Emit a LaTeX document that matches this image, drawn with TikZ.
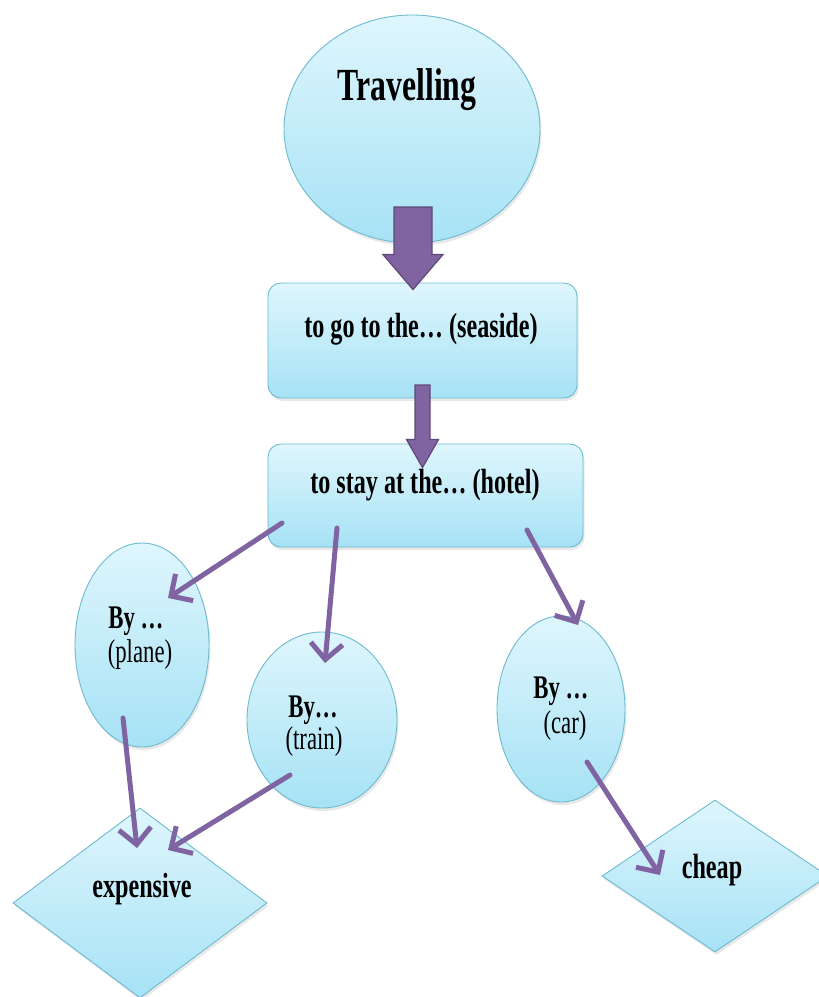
\documentclass[tikz,border=0pt]{standalone}
\usepackage{fontspec}
\setmainfont{Liberation Serif}[FakeStretch=0.69]
\usetikzlibrary{shapes.geometric,arrows.meta,calc,shadows}
\definecolor{fillTop}{HTML}{DFF6FD}
\definecolor{fillBot}{HTML}{A6E2F5}
\definecolor{edgeC}{HTML}{6DBBD0}
\definecolor{arrowC}{HTML}{8064A2}
\definecolor{arrowD}{HTML}{5F497A}
\begin{document}
\begin{tikzpicture}[x=1pt,y=-1pt,
  shapefill/.style={draw=edgeC, line width=0.9pt, top color=fillTop, bottom color=fillBot, inner sep=0pt,
    drop shadow={opacity=0.18, shadow xshift=1.5pt, shadow yshift=-3pt}},
  oval/.style={shapefill, ellipse},
  rbox/.style={shapefill, rectangle, rounded corners=13pt},
  rhomb/.style={shapefill, diamond},
  boldtxt/.style={font=\fontsize{35}{35}\selectfont\bfseries, anchor=base, inner sep=0pt},
  plaintxt/.style={font=\fontsize{33}{33}\selectfont, anchor=base, inner sep=0pt},
  link/.style={draw=arrowC, line width=5pt, line cap=round, -{Straight Barb[length=16pt,width=32pt]}},
  blockarrow/.style={fill=arrowC, draw=arrowD, line width=1.2pt, line join=miter}
]
\useasboundingbox[fill=white] (0,0) rectangle (819,997);

% shapes
\node[oval, minimum width=256pt, minimum height=228pt] (trav) at (412,129) {};
\node[rbox, minimum width=309pt, minimum height=115pt] (box1) at (422.5,340.5) {};
\node[rbox, minimum width=315pt, minimum height=103pt] (box2) at (425.5,495.5) {};
\node[oval, minimum width=134pt, minimum height=204pt] (plane) at (142,645) {};
\node[oval, minimum width=150pt, minimum height=176pt] (train) at (322,720) {};
\node[oval, minimum width=128pt, minimum height=186pt] (car) at (561,709) {};
\node[rhomb, minimum width=254pt, minimum height=190pt] (exp) at (140,903) {};
\node[rhomb, minimum width=226pt, minimum height=152pt] (cheap) at (715,876) {};

% texts
\node[boldtxt, font=\fontsize{46}{46}\selectfont\bfseries] (travtxt) at (407,100) {Travelling};
\node[boldtxt] (box1txt) at (421,337) {to go to the… (seaside)};
\node[boldtxt] (box2txt) at (425,493) {to stay at the… (hotel)};
\node[boldtxt, font=\fontsize{33}{33}\selectfont\bfseries] (planeA) at (136,628) {By …};
\node[plaintxt] (planeB) at (140,662) {(plane)};
\node[boldtxt, font=\fontsize{33}{33}\selectfont\bfseries] (trainA) at (313,717) {By…};
\node[plaintxt] (trainB) at (314,749) {(train)};
\node[boldtxt, font=\fontsize{33}{33}\selectfont\bfseries] (carA) at (561,698) {By …};
\node[plaintxt] (carB) at (565,733) {(car)};
\node[boldtxt] (exptxt) at (142,897) {expensive};
\node[boldtxt] (cheaptxt) at (712,878) {cheap};

% block arrows
\coordinate (ba1s) at ($(trav.center)+(1,78)$);
\coordinate (ba1e) at ($(box1.north)+(-9.5,7)$);
\draw[blockarrow] ($(ba1s)+(-19,0)$) -- ($(ba1e)+(-19,-35)$) -- ($(ba1e)+(-30,-35)$) -- (ba1e)
  -- ($(ba1e)+(30,-35)$) -- ($(ba1e)+(19,-35)$) -- ($(ba1s)+(19,0)$) -- cycle;
\coordinate (ba2s) at ($(box1.center)+(0,44.5)$);
\coordinate (ba2e) at ($(box2.north)+(-3,24)$);
\draw[blockarrow] ($(ba2s)+(-7.5,0)$) -- ($(ba2e)+(-7.5,-28)$) -- ($(ba2e)+(-16,-28)$) -- (ba2e)
  -- ($(ba2e)+(16,-28)$) -- ($(ba2e)+(7.5,-28)$) -- ($(ba2s)+(7.5,0)$) -- cycle;

% thin arrows
\draw[link] ($(box2.center)+(-143.5,27.5)$) -- ($(plane.center)+(26,-47)$);
\draw[link] ($(box2.center)+(-88.5,32.5)$) -- ($(train.center)+(3,-57)$);
\draw[link] ($(box2.center)+(101.5,34.5)$) -- ($(car.center)+(17,-84)$);
\draw[link] ($(plane.center)+(-19,73)$) -- ($(exp.center)+(-3,-55)$);
\draw[link] ($(train.center)+(-32,55)$) -- ($(exp.center)+(28,-53)$);
\draw[link] ($(car.center)+(26,53)$) -- ($(cheap.center)+(-55,-1)$);
\end{tikzpicture}
\end{document}
